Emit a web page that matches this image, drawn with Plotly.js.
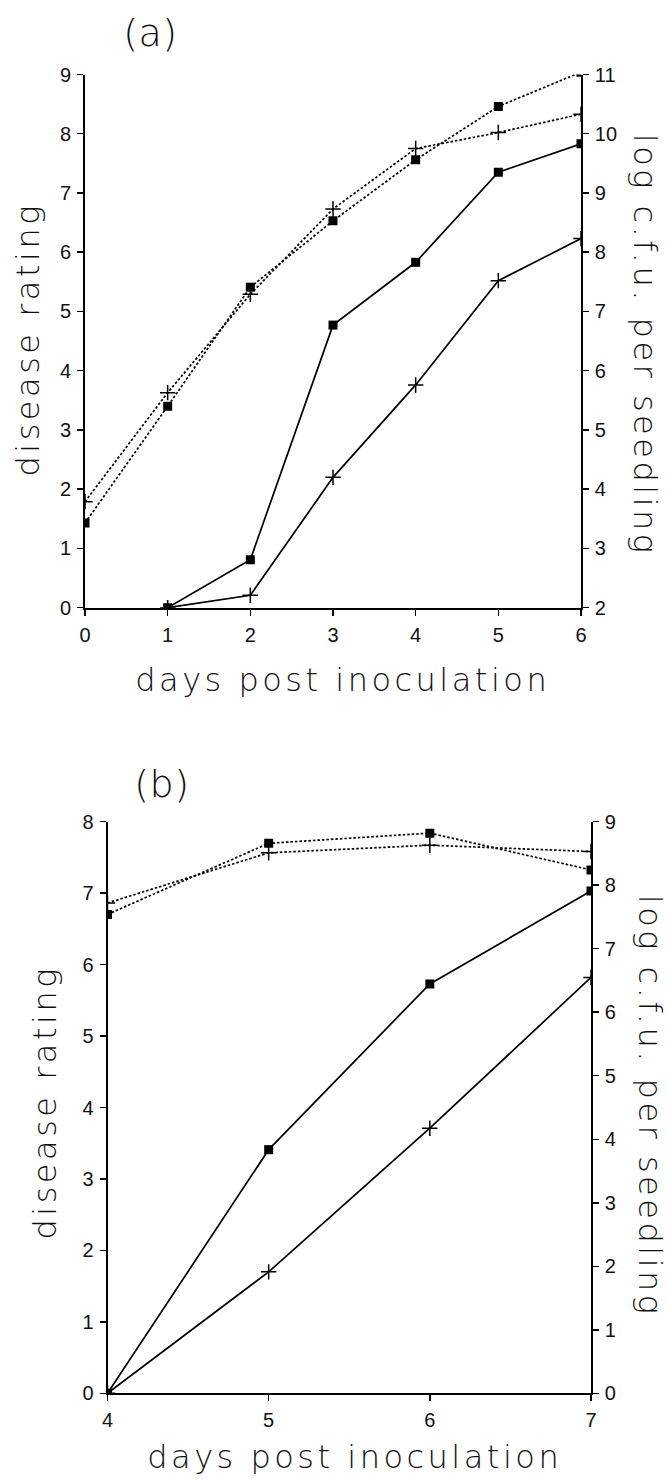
<!DOCTYPE html>
<html>
<head>
<meta charset="utf-8">
<script src="https://cdn.plot.ly/plotly-3.0.1.min.js"></script>
<style>
html,body{margin:0;padding:0;background:#fff}
#chart{width:668px;height:1479px}
#chart .annotation-text{letter-spacing:3.5px}
#chart g.annotation[data-index="0"] .annotation-text,
#chart g.annotation[data-index="1"] .annotation-text{letter-spacing:0.5px}
</style>
</head>
<body>
<div id="chart"></div>
<script>
// Panel (a)
var daysA = [0, 1, 2, 3, 4, 5, 6];
var daysA_rating = [1, 2, 3, 4, 5, 6];
var ratingSquareA = [0, 0.81, 4.77, 5.83, 7.35, 7.83];
var ratingPlusA = [0, 0.21, 2.2, 3.76, 5.52, 6.23];
var cfuSquareA = [3.43, 5.40, 7.41, 8.53, 9.56, 10.46, 11.04];
var cfuPlusA = [3.79, 5.63, 7.29, 8.73, 9.75, 10.02, 10.33];
// Panel (b)
var daysB = [4, 5, 6, 7];
var ratingSquareB = [0, 3.41, 5.73, 7.03];
var ratingPlusB = [0, 1.70, 3.71, 5.82];
var cfuSquareB = [7.54, 8.66, 8.82, 8.24];
var cfuPlusB = [7.72, 8.51, 8.63, 8.53];

var xTicksA = [0, 1, 2, 3, 4, 5, 6];
var yLeftTicksA = [0, 1, 2, 3, 4, 5, 6, 7, 8, 9];
var yRightTicksA = [2, 3, 4, 5, 6, 7, 8, 9, 10, 11];
var xTicksB = [4, 5, 6, 7];
var yLeftTicksB = [0, 1, 2, 3, 4, 5, 6, 7, 8];
var yRightTicksB = [0, 1, 2, 3, 4, 5, 6, 7, 8, 9];

var titleA = "(a)", titleB = "(b)";
var xTitle = "days post inoculation";
var yLeftTitle = "disease rating";
var yRightTitle = "log c.f.u. per seedling";

var tickFont = {family: "Liberation Sans, Arial, sans-serif", size: 20, color: "#111"};
var titleFont = {family: "DejaVu Sans, sans-serif", size: 32, color: "#111", weight: 200};
var panelFont = {family: "DejaVu Sans, sans-serif", size: 38, color: "#111", weight: 200};

var sqMarker = {symbol: "square", size: 9, color: "#000"};
var plusMarker = {symbol: "cross-thin", size: 11, color: "#000", line: {width: 1.5, color: "#000"}};
var solid = {color: "#000", width: 1.7};
var dotted = {color: "#000", width: 1.7, dash: "2.5px,2px"};

function tr(x, y, xa, ya, marker, line) {
  return {x: x, y: y, xaxis: xa, yaxis: ya, mode: "lines+markers", marker: marker, line: line, showlegend: false, hoverinfo: "skip"};
}

var data = [
  tr(daysA_rating, ratingSquareA, "x", "y", sqMarker, solid),
  tr(daysA_rating, ratingPlusA, "x", "y", plusMarker, solid),
  tr(daysA, cfuSquareA, "x", "y2", sqMarker, dotted),
  tr(daysA, cfuPlusA, "x", "y2", plusMarker, dotted),
  tr(daysB, ratingSquareB, "x2", "y3", sqMarker, solid),
  tr(daysB, ratingPlusB, "x2", "y3", plusMarker, solid),
  tr(daysB, cfuSquareB, "x2", "y4", sqMarker, dotted),
  tr(daysB, cfuPlusB, "x2", "y4", plusMarker, dotted)
];

function axisBase(extra) {
  var a = {showline: true, linecolor: "#000", linewidth: 1.8, ticks: "outside", ticklen: 6, tickwidth: 1.5, tickcolor: "#000",
    showgrid: false, zeroline: false, tickfont: tickFont, fixedrange: true, ticklabelstandoff: 2};
  for (var k in extra) a[k] = extra[k];
  return a;
}

var W = 668, H = 1479;
function px(v) { return v / W; }
function py(v) { return 1 - v / H; }

var layout = {
  width: W, height: H,
  margin: {l: 0, r: 0, t: 0, b: 0},
  paper_bgcolor: "#fff", plot_bgcolor: "rgba(0,0,0,0)",
  xaxis: axisBase({domain: [px(85), px(581)], range: [0, 6], tickvals: xTicksA, anchor: "y"}),
  yaxis: axisBase({domain: [py(607.7), py(74.5)], range: [0, 9], tickvals: yLeftTicksA, anchor: "x"}),
  yaxis2: axisBase({domain: [py(607.7), py(74.5)], range: [2, 11], tickvals: yRightTicksA, overlaying: "y", side: "right", anchor: "x"}),
  xaxis2: axisBase({domain: [px(107.5), px(591)], range: [4, 7], tickvals: xTicksB, anchor: "y3"}),
  yaxis3: axisBase({domain: [py(1393.3), py(821.7)], range: [0, 8], tickvals: yLeftTicksB, anchor: "x2"}),
  yaxis4: axisBase({domain: [py(1393.3), py(821.7)], range: [0, 9], tickvals: yRightTicksB, overlaying: "y3", side: "right", anchor: "x2"}),
  annotations: [
    {text: titleA, x: px(150), y: py(33), xref: "paper", yref: "paper", showarrow: false, xanchor: "center", yanchor: "middle", font: panelFont},
    {text: titleB, x: px(162), y: py(784), xref: "paper", yref: "paper", showarrow: false, xanchor: "center", yanchor: "middle", font: panelFont},
    {text: xTitle, x: px(342), y: py(680), xref: "paper", yref: "paper", showarrow: false, xanchor: "center", yanchor: "middle", font: titleFont},
    {text: xTitle, x: px(354), y: py(1457), xref: "paper", yref: "paper", showarrow: false, xanchor: "center", yanchor: "middle", font: titleFont},
    {text: yLeftTitle, x: px(28), y: py(340), xref: "paper", yref: "paper", showarrow: false, textangle: -90, xanchor: "center", yanchor: "middle", font: titleFont},
    {text: yLeftTitle, x: px(45), y: py(1103), xref: "paper", yref: "paper", showarrow: false, textangle: -90, xanchor: "center", yanchor: "middle", font: titleFont},
    {text: yRightTitle, x: px(645), y: py(345), xref: "paper", yref: "paper", showarrow: false, textangle: 90, xanchor: "center", yanchor: "middle", font: titleFont},
    {text: yRightTitle, x: px(650), y: py(1106), xref: "paper", yref: "paper", showarrow: false, textangle: 90, xanchor: "center", yanchor: "middle", font: titleFont}
  ]
};

Plotly.newPlot("chart", data, layout, {staticPlot: true, displayModeBar: false});
</script>
</body>
</html>
